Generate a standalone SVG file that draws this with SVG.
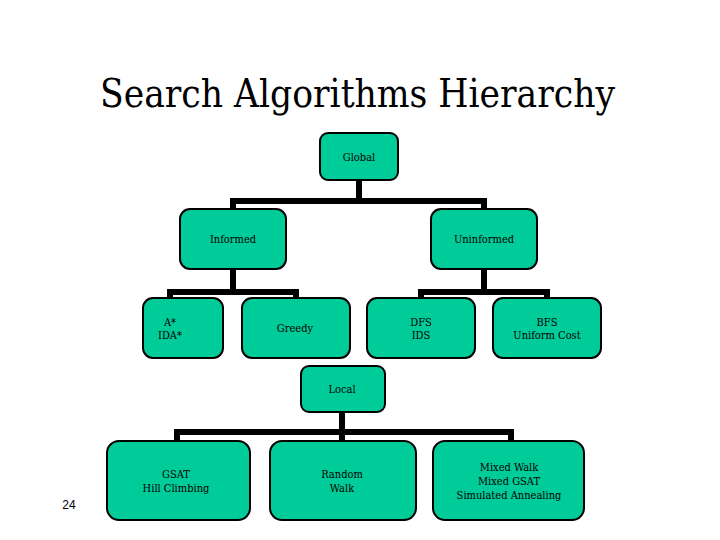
<svg xmlns="http://www.w3.org/2000/svg" width="720" height="540" viewBox="0 0 720 540">
<style>
.node rect{fill:#00CC99;stroke:#000;stroke-width:2}
.node text{font-family:"DejaVu Serif Condensed","DejaVu Serif",serif;font-size:11px;text-anchor:middle;fill:#000}
.title{font-family:"DejaVu Serif",serif;font-size:40px;fill:#000}
#connectors path{fill:none;stroke:#000;stroke-width:6;stroke-linejoin:miter}
</style>
<rect width="720" height="540" fill="#fff"/>
<text class="title" x="100" y="107" textLength="515" lengthAdjust="spacingAndGlyphs">Search Algorithms Hierarchy</text>
<g id="connectors">
<path d="M359,180 V201 M233,210 V201 H484 V210"/>
<path d="M233,268 V292 M170,299 V292 H296 V299"/>
<path d="M484,268 V292 M421,299 V292 H547 V299"/>
<path d="M342,411 V432 M177,442 V432 H511 V442 M342,432 V442"/>
</g>
<g id="global" class="node"><rect x="320" y="133" width="78" height="47" rx="8"/><text x="359" y="161">Global</text></g>
<g id="informed" class="node"><rect x="180" y="209" width="106" height="60" rx="10"/><text x="233" y="243">Informed</text></g>
<g id="uninformed" class="node"><rect x="431" y="209" width="106" height="60" rx="10"/><text x="484" y="243">Uninformed</text></g>
<g id="astar" class="node"><rect x="143" y="298" width="80" height="60" rx="10"/><text x="170" y="326">A*</text><text x="170" y="339">IDA*</text></g>
<g id="greedy" class="node"><rect x="242" y="298" width="108" height="60" rx="10"/><text x="295" y="332">Greedy</text></g>
<g id="dfs" class="node"><rect x="367" y="298" width="108" height="60" rx="10"/><text x="421" y="326">DFS</text><text x="421" y="339">IDS</text></g>
<g id="bfs" class="node"><rect x="493" y="298" width="108" height="60" rx="10"/><text x="547" y="326">BFS</text><text x="547" y="339">Uniform Cost</text></g>
<g id="local" class="node"><rect x="301" y="366" width="84" height="46" rx="8"/><text x="342" y="393">Local</text></g>
<g id="gsat" class="node"><rect x="107" y="441" width="143" height="79" rx="12"/><text x="176" y="478">GSAT</text><text x="176" y="492">Hill Climbing</text></g>
<g id="random" class="node"><rect x="270" y="441" width="146" height="79" rx="12"/><text x="342" y="478">Random</text><text x="342" y="492">Walk</text></g>
<g id="mixed" class="node"><rect x="433" y="441" width="151" height="79" rx="12"/><text x="509" y="471">Mixed Walk</text><text x="509" y="485">Mixed GSAT</text><text x="509" y="499">Simulated Annealing</text></g>
<text x="69" y="509" font-family="Liberation Sans, Arial, sans-serif" font-size="12" text-anchor="middle">24</text>
</svg>
